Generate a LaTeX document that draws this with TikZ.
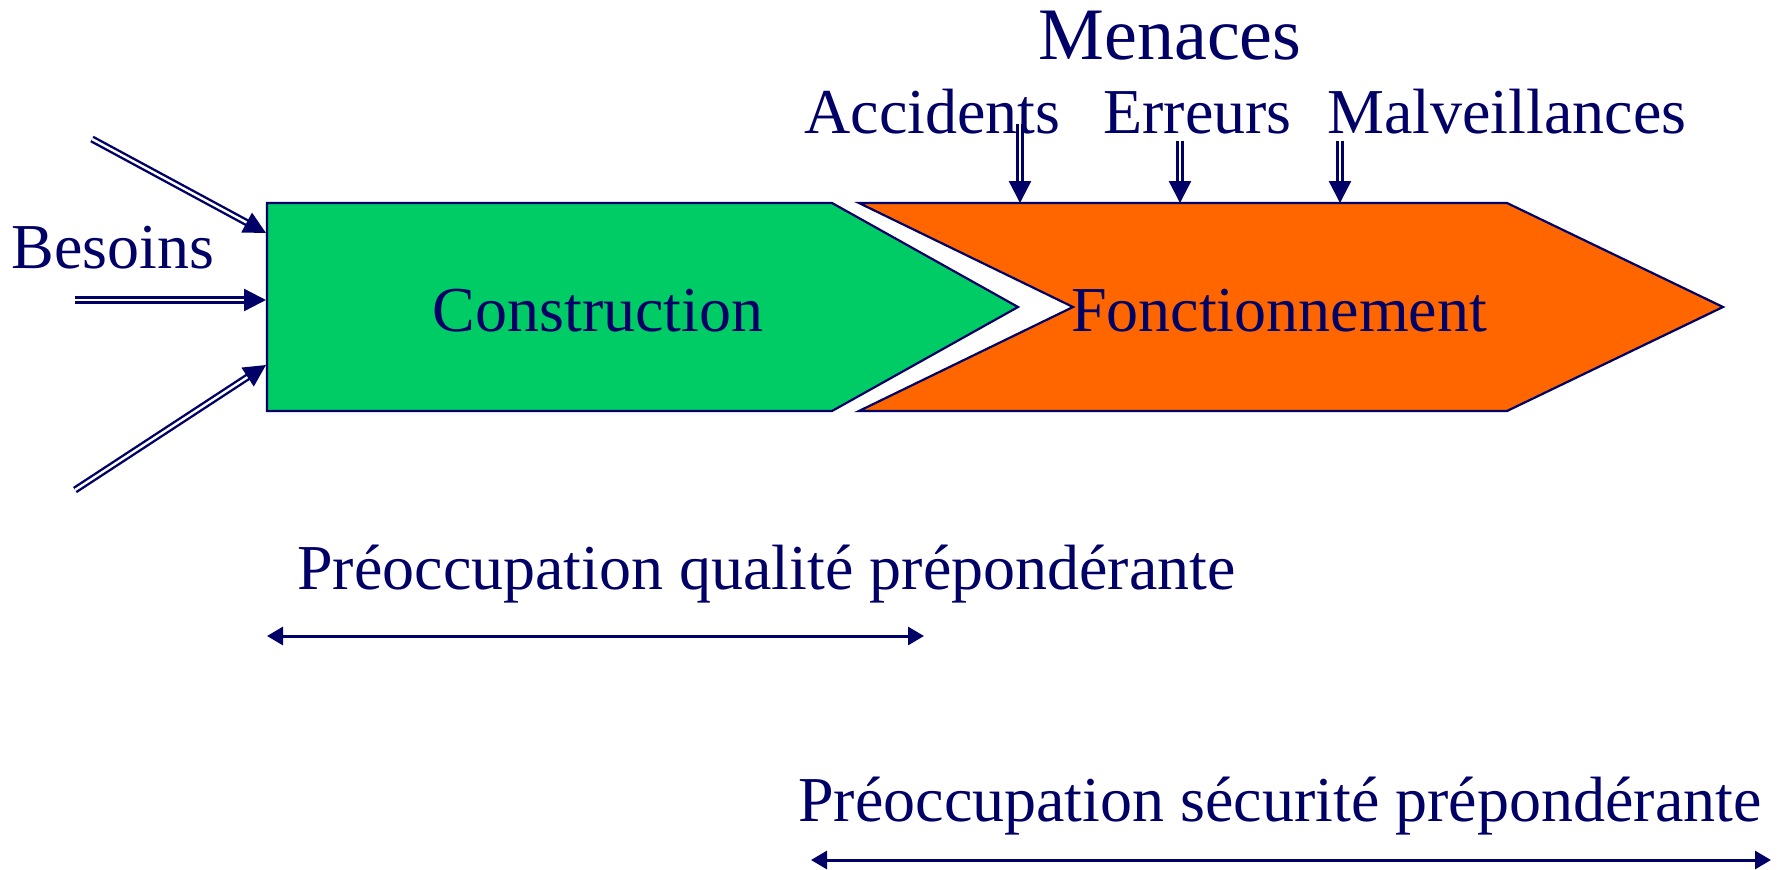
\documentclass[tikz,border=0pt]{standalone}
\usepackage{fontspec}
\setmainfont{Liberation Serif}
\usetikzlibrary{arrows.meta}
\definecolor{navy}{RGB}{0,0,102}
\definecolor{vert}{RGB}{0,204,102}
\definecolor{orange}{RGB}{255,102,0}
\tikzset{
  lbl/.style={inner sep=0pt, text=navy, font=\fontsize{32}{38}\selectfont},
  bigl/.style={inner sep=0pt, text=navy, font=\fontsize{37}{44}\selectfont},
  dblarrow/.style={draw=navy, line width=1.2pt, double=white, double distance=1.2pt,
    -{Triangle[length=11pt,width=11pt]}},
  span/.style={draw=navy, line width=1.5pt, {Triangle[length=8pt,width=9pt]}-{Triangle[length=8pt,width=9pt]}},
  phase/.style={draw=navy, line width=1.1pt, line join=miter}
}
\begin{document}
\begin{tikzpicture}[x=0.5pt,y=-0.5pt]
\useasboundingbox (0,0) rectangle (1779,869);
% shapes
\path[phase, fill=vert] (267,203) -- (832,203) -- (1018,307) -- (832,411) -- (267,411) -- cycle;
\path[phase, fill=orange] (859,203) -- (1507,203) -- (1723,307) -- (1507,411) -- (859,411) -- (1073,307) -- cycle;
% texts
\node[bigl, anchor=base] (menaces) at (1170,59) {Menaces};
\node[lbl, anchor=base west] (acc) at (804,133) {Accidents};
\node[lbl, anchor=base west] (err) at (1103,133) {Erreurs};
\node[lbl, anchor=base west] (mal) at (1327,133) {Malveillances};
\node[lbl, anchor=base west] (bes) at (11,268) {Besoins};
\node[lbl, anchor=base] (cons) at (598,331) {Construction};
\node[lbl, anchor=base] (fonc) at (1279,331) {Fonctionnement};
\node[lbl, anchor=base west] (qual) at (297,589) {Préoccupation qualité prépondérante};
\node[lbl, anchor=base west] (secu) at (798,821) {Préoccupation sécurité prépondérante};
% coordinates
\coordinate (b1s) at (92,139);  \coordinate (b1e) at (266,233);
\coordinate (b2s) at (75,300);  \coordinate (b2e) at (266,300);
\coordinate (b3s) at (75,490);  \coordinate (b3e) at (266,365);
\coordinate (m1s) at (1020,124); \coordinate (m1e) at (1020,203);
\coordinate (m2s) at (1180,141); \coordinate (m2e) at (1180,203);
\coordinate (m3s) at (1340,141); \coordinate (m3e) at (1340,203);
\coordinate (q1) at (267,636); \coordinate (q2) at (924,636);
\coordinate (s1) at (811,860); \coordinate (s2) at (1771,860);
% arrows
\draw[dblarrow] (b1s) -- (b1e);
\draw[dblarrow] (b2s) -- (b2e);
\draw[dblarrow] (b3s) -- (b3e);
\draw[dblarrow] (m1s) -- (m1e);
\draw[dblarrow] (m2s) -- (m2e);
\draw[dblarrow] (m3s) -- (m3e);
\draw[span] (q1) -- (q2);
\draw[span] (s1) -- (s2);
\end{tikzpicture}
\end{document}
